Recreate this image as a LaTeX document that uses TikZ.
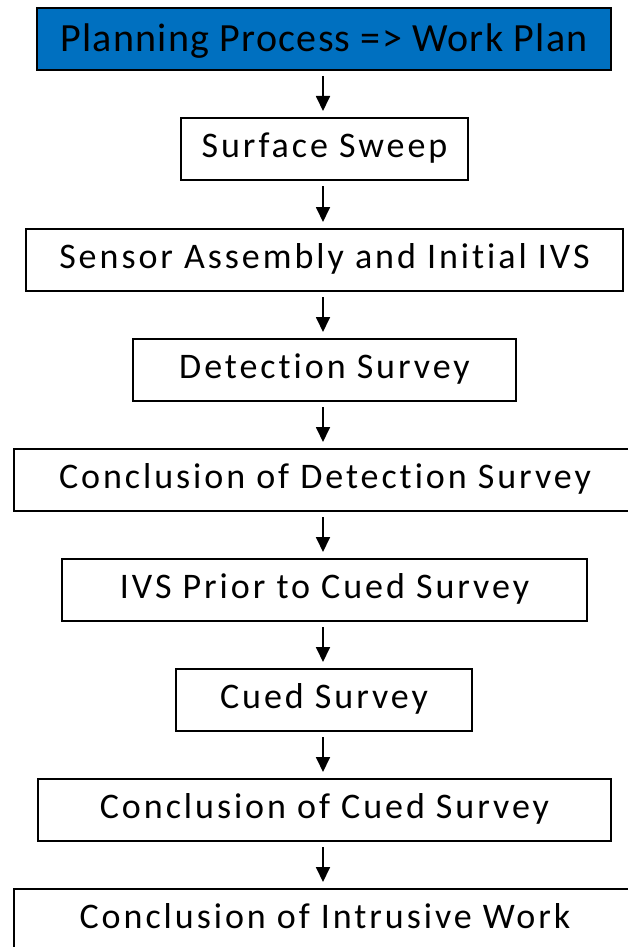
\documentclass[tikz,border=0pt]{standalone}
\usepackage{fontspec}
\setmainfont{Carlito}
\newfontfamily\boxfont[LetterSpace=8.2,Ligatures=NoCommon]{Carlito}
\newfontfamily\hdrfont[LetterSpace=3.2,Ligatures=NoCommon]{Carlito}
\usetikzlibrary{arrows.meta}
\definecolor{hdrblue}{HTML}{0070C0}
\begin{document}
\begin{tikzpicture}[x=1pt,y=-1pt,
  stepbox/.style={draw=black,line width=2pt,fill=white,inner sep=0pt,minimum height=62pt,
    text height=24pt,text depth=7pt,font=\boxfont\fontsize{36}{40}\selectfont,text=black},
  hdrbox/.style={stepbox,fill=hdrblue,text height=33pt,text depth=8pt,font=\hdrfont\fontsize{40}{44}\selectfont},
  flowarrow/.style={draw=black,line width=1.8pt,-{Triangle[length=15pt,width=14pt]},shorten >=6pt,shorten <=5pt}]
\useasboundingbox (0,0) rectangle (628,947);
\clip (0,0) rectangle (628,947);
\node[hdrbox,minimum width=574pt] (b1) at (324,39) {Planning Process => Work Plan};
\node[stepbox,minimum width=287pt] (b2) at (324.5,149) {Surface Sweep};
\node[stepbox,minimum width=597pt] (b3) at (324.5,260) {Sensor Assembly and Initial IVS};
\node[stepbox,minimum width=383pt] (b4) at (324.5,370) {Detection Survey};
\node[stepbox,minimum width=622pt] (b5) at (325,480) {Conclusion of Detection Survey};
\node[stepbox,minimum width=525pt] (b6) at (324.5,590) {IVS Prior to Cued Survey};
\node[stepbox,minimum width=296pt] (b7) at (324,700) {Cued Survey};
\node[stepbox,minimum width=573pt] (b8) at (324.5,810) {Conclusion of Cued Survey};
\node[stepbox,minimum width=622pt] (b9) at (325,920) {Conclusion of Intrusive Work};
\foreach \a/\b in {b1/b2,b2/b3,b3/b4,b4/b5,b5/b6,b6/b7,b7/b8,b8/b9}
  \draw[flowarrow] (\a.south -| 323,0) -- (\b.north -| 323,0);
\end{tikzpicture}
\end{document}
